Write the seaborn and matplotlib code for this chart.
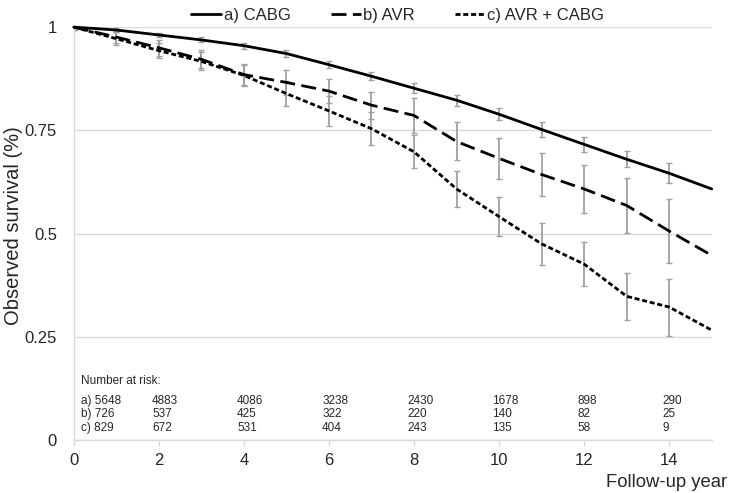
import pandas as pd
import numpy as np
import seaborn as sns
import matplotlib.pyplot as plt

sns.set_style("white")
plt.rcParams['font.family'] = ['Liberation Sans', 'DejaVu Sans']

# survival data
years = list(range(16))
surv_cabg = [1.0, 0.993, 0.981, 0.969, 0.955, 0.936, 0.909, 0.881, 0.852, 0.823, 0.789, 0.752, 0.716, 0.680, 0.646, 0.608]
surv_avr = [1.0, 0.976, 0.950, 0.922, 0.885, 0.866, 0.845, 0.811, 0.786, 0.723, 0.682, 0.643, 0.608, 0.568, 0.506, 0.447]
surv_both = [1.0, 0.972, 0.943, 0.917, 0.883, 0.839, 0.797, 0.754, 0.698, 0.608, 0.541, 0.475, 0.426, 0.348, 0.322, 0.266]

# half-width of the error bars, years 0-14
err_cabg = [0.006, 0.004, 0.005, 0.006, 0.007, 0.008, 0.009, 0.010, 0.012, 0.013, 0.015, 0.017, 0.018, 0.020, 0.024]
err_avr = [0.006, 0.015, 0.020, 0.022, 0.026, 0.030, 0.030, 0.033, 0.042, 0.046, 0.049, 0.053, 0.058, 0.067, 0.077]
err_both = [0.006, 0.015, 0.018, 0.022, 0.026, 0.031, 0.036, 0.040, 0.040, 0.044, 0.047, 0.050, 0.053, 0.057, 0.069]

labels = ['a) CABG', 'b) AVR', 'c) AVR + CABG']

# number at risk table
risk_years = [0, 2, 4, 6, 8, 10, 12, 14]
risk_a = [5648, 4883, 4086, 3238, 2430, 1678, 898, 290]
risk_b = [726, 537, 425, 322, 220, 140, 82, 25]
risk_c = [829, 672, 531, 404, 243, 135, 58, 9]

df = pd.concat([
    pd.DataFrame({'year': years, 'surv': s, 'group': g})
    for s, g in zip([surv_cabg, surv_avr, surv_both], labels)
])

fig, ax = plt.subplots(figsize=(7.3, 4.93), dpi=100)
fig.subplots_adjust(left=0.101, right=0.975, top=0.945, bottom=0.1075)

# error bars under the lines
for s, e in zip([surv_cabg, surv_avr, surv_both], [err_cabg, err_avr, err_both]):
    ax.errorbar(years[:len(e)], s[:len(e)], yerr=e, fmt='none', ecolor='#A0A0A0',
                elinewidth=1.3, capsize=2.5, capthick=1, zorder=2)

sns.lineplot(data=df, x='year', y='surv', style='group', color='black', linewidth=2,
             dashes={'a) CABG': '', 'b) AVR': (5.4, 2.3), 'c) AVR + CABG': (1.8, 1.0)},
             ax=ax, zorder=3, clip_on=False)

handles, lbls = ax.get_legend_handles_labels()
ax.get_legend().remove()
fig.legend(handles, lbls, loc='upper center', bbox_to_anchor=(0.545, 1.015), ncol=3,
           frameon=False, fontsize=12, handlelength=1.8, handletextpad=0.15, columnspacing=2.4)

ax.set_xlim(0, 15)
ax.set_ylim(0, 1)
ax.set_xticks([0, 2, 4, 6, 8, 10, 12, 14])
ax.set_yticks([0, 0.25, 0.5, 0.75, 1])
ax.set_yticklabels(['0', '0.25', '0.5', '0.75', '1'])
ax.tick_params(axis='y', length=0, pad=12, labelsize=12)
ax.tick_params(axis='x', length=4, width=1, color='#D9D9D9', pad=5, labelsize=12, bottom=True)
ax.yaxis.grid(True, color='#D9D9D9', linewidth=1)
for side in ['top', 'right']:
    ax.spines[side].set_visible(False)
for side in ['left', 'bottom']:
    ax.spines[side].set_color('#D9D9D9')
    ax.spines[side].set_linewidth(1)

ax.set_xlabel('')
ax.set_ylabel('Observed survival (%)', fontsize=14.5)
ax.yaxis.set_label_coords(-0.08, 0.52)
fig.text(0.996, 0.013, 'Follow-up year', ha='right', va='baseline', fontsize=13.3)

# number at risk
ax.text(0.16, 0.143, 'Number at risk:', fontsize=8.5, va='center')
for row, (tag, vals) in enumerate(zip(['a)', 'b)', 'c)'], [risk_a, risk_b, risk_c])):
    yv = 0.095 - row * 0.0325
    for yr, n in zip(risk_years, vals):
        txt = f'{tag} {n}' if yr == 0 else str(n)
        xv = 0.16 if yr == 0 else yr - 0.16
        ax.text(xv, yv, txt, fontsize=8.5, va='center')

plt.savefig('out.png', dpi=100)
